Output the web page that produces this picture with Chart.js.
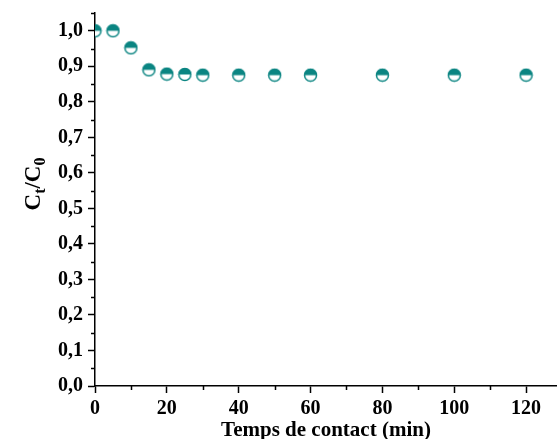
<!DOCTYPE html>
<html>
<head>
<meta charset="utf-8">
<script src="https://cdn.jsdelivr.net/npm/chart.js@4"></script>
<style>
  html, body { margin: 0; padding: 0; background: #fff; }
  #wrap { width: 557px; height: 439px; }
</style>
</head>
<body>
<div id="wrap"><canvas id="chart"></canvas></div>
<script>
// contact time (min) and Ct/C0
const times = [0, 5, 10, 15, 20, 25, 30, 40, 50, 60, 80, 100, 120];
const ratios = [1.0, 1.0, 0.952, 0.89, 0.878, 0.877, 0.875, 0.875, 0.875, 0.875, 0.875, 0.875, 0.875];

const xTicks = [0, 20, 40, 60, 80, 100, 120];
const xMinor = [10, 30, 50, 70, 90, 110];
const yTicks = [0, 0.1, 0.2, 0.3, 0.4, 0.5, 0.6, 0.7, 0.8, 0.9, 1.0];
const yMinor = [0.05, 0.15, 0.25, 0.35, 0.45, 0.55, 0.65, 0.75, 0.85, 0.95, 1.05];

const teal = "#0b8582";
const font = "'Liberation Serif', 'Times New Roman', serif";

// half filled circle marker
function makeMarker() {
  const c = document.createElement("canvas");
  c.width = 15;
  c.height = 15;
  const g = c.getContext("2d");
  g.fillStyle = "#fff";
  g.beginPath();
  g.arc(7.5, 7.5, 6, 0, Math.PI * 2);
  g.fill();
  g.fillStyle = teal;
  g.beginPath();
  g.arc(7.5, 7.5, 6.5, Math.PI, Math.PI * 2);
  g.closePath();
  g.fill();
  g.strokeStyle = teal;
  g.lineWidth = 1.5;
  g.beginPath();
  g.arc(7.5, 7.5, 6, 0, Math.PI * 2);
  g.stroke();
  return c;
}

// minor ticks, half length
const minorTicks = {
  id: "minorTicks",
  afterDraw(chart) {
    const ctx = chart.ctx;
    const xs = chart.scales.x, ys = chart.scales.y;
    ctx.save();
    ctx.strokeStyle = "#000";
    ctx.lineWidth = 1.5;
    ctx.beginPath();
    xMinor.forEach((v) => {
      const px = Math.round(xs.getPixelForValue(v)) + 0.5;
      ctx.moveTo(px, xs.top);
      ctx.lineTo(px, xs.top + 4);
    });
    yMinor.forEach((v) => {
      const py = Math.round(ys.getPixelForValue(v)) + 0.5;
      ctx.moveTo(ys.right, py);
      ctx.lineTo(ys.right - 4, py);
    });
    ctx.stroke();
    ctx.restore();
  }
};

// y title Ct/C0 with subscripts
const yTitle = {
  id: "yTitle",
  afterDraw(chart) {
    const ctx = chart.ctx;
    const parts = [["C", 23, 0], ["t", 16, 5], ["/C", 23, 0], ["0", 16, 5]];
    ctx.save();
    ctx.translate(40, 184);
    ctx.rotate(-Math.PI / 2);
    ctx.fillStyle = "#000";
    ctx.textBaseline = "alphabetic";
    let w = 0;
    parts.forEach(([t, s]) => { ctx.font = "bold " + s + "px " + font; w += ctx.measureText(t).width; });
    let x = -w / 2;
    parts.forEach(([t, s, dy]) => {
      ctx.font = "bold " + s + "px " + font;
      ctx.fillText(t, x, dy);
      x += ctx.measureText(t).width;
    });
    ctx.restore();
  }
};

new Chart(document.getElementById("chart"), {
  type: "scatter",
  data: {
    datasets: [{
      data: times.map((t, i) => ({ x: t, y: ratios[i] })),
      pointStyle: makeMarker(),
      pointRadius: 7,
      pointHoverRadius: 7
    }]
  },
  options: {
    responsive: true,
    maintainAspectRatio: false,
    animation: false,
    layout: { autoPadding: false, padding: { top: 13, left: 0, right: 0, bottom: 0 } },
    plugins: { legend: { display: false }, tooltip: { enabled: false } },
    scales: {
      x: {
        type: "linear",
        min: 0,
        max: 128.6,
        afterBuildTicks: (s) => { s.ticks = xTicks.map((v) => ({ value: v })); },
        afterFit: (s) => { s.height = 53; s.paddingLeft = 0; s.paddingRight = 0; },
        grid: { display: true, drawOnChartArea: false, tickLength: 7, tickWidth: 1.5, color: "#000" },
        border: { display: true, color: "#000", width: 1.5 },
        ticks: { color: "#000", padding: 4, font: { family: font, size: 20, weight: "bold" } },
        title: { display: true, text: "Temps de contact (min)", color: "#000", padding: { top: 0, bottom: -4 },
          font: { family: font, size: 21, weight: "bold" } }
      },
      y: {
        min: 0,
        max: 1.05,
        afterBuildTicks: (s) => { s.ticks = yTicks.map((v) => ({ value: v })); },
        afterFit: (s) => { s.width = 95; s.paddingTop = 0; s.paddingBottom = 0; },
        grid: { display: true, drawOnChartArea: false, tickLength: 7, tickWidth: 1.5, color: "#000" },
        border: { display: true, color: "#000", width: 1.5 },
        ticks: { color: "#000", padding: 5, font: { family: font, size: 20, weight: "bold" },
          callback: (v) => v.toFixed(1).replace(".", ",") }
      }
    }
  },
  plugins: [minorTicks, yTitle]
});
</script>
</body>
</html>
